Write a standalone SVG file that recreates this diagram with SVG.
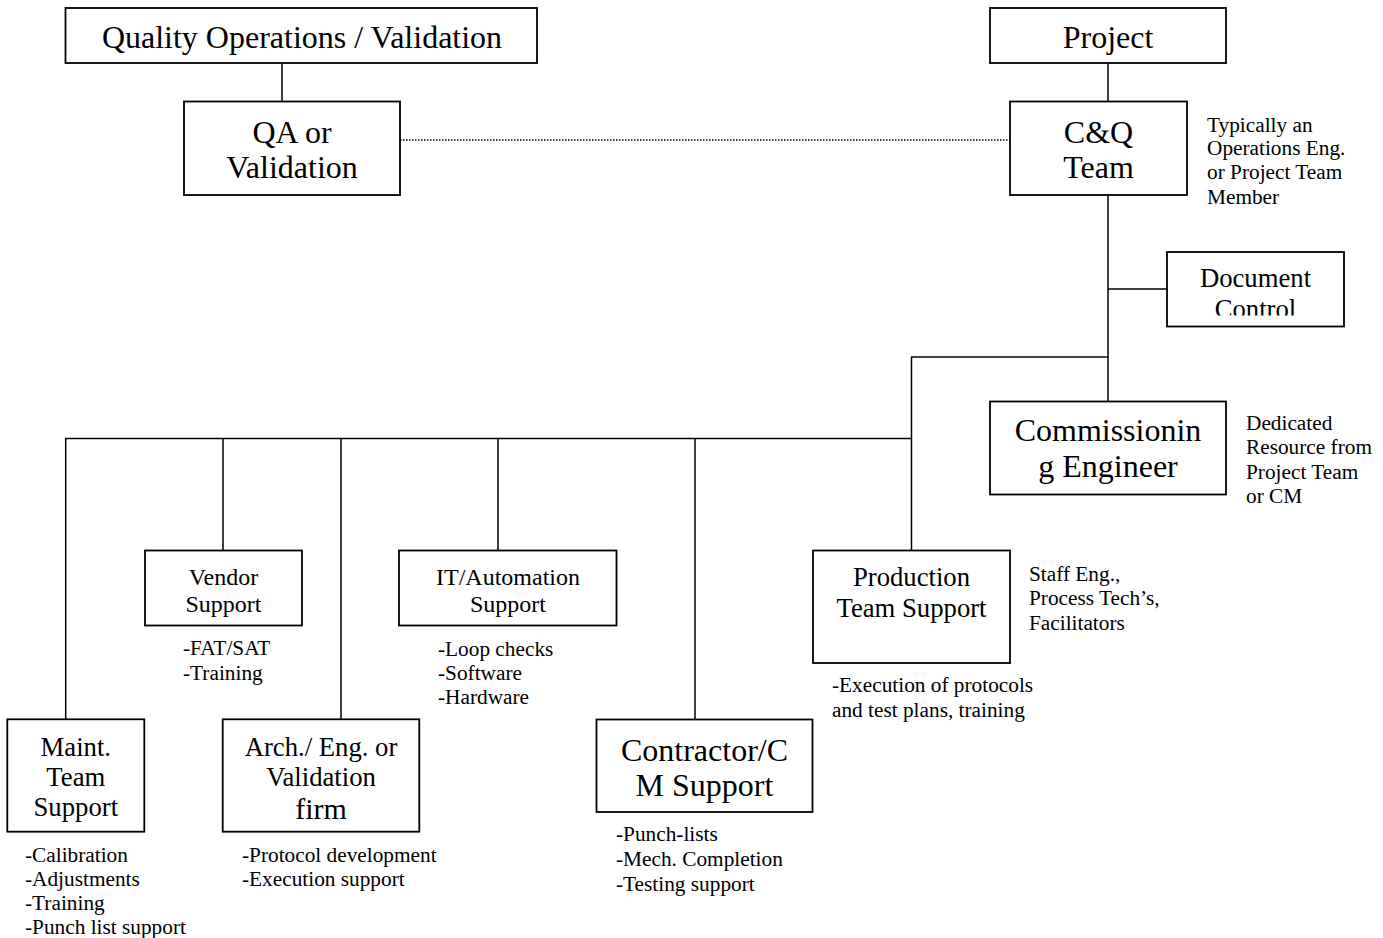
<svg xmlns="http://www.w3.org/2000/svg" width="1383" height="938" viewBox="0 0 1383 938">
<style>
rect.box{fill:#fff;stroke:#000;stroke-width:1.8}
.c line{stroke:#000;stroke-width:1.5}
.dot{stroke:#000;stroke-width:1.4;stroke-dasharray:1.5 1.5}
text{font-family:"Liberation Serif","Times New Roman",serif;fill:#000}
.t32{font-size:32px;text-anchor:middle}
.t30{font-size:30px;text-anchor:middle}
.t27{font-size:26.7px;text-anchor:middle}
.t24{font-size:24px;text-anchor:middle}
.n{font-size:21.3px}
</style>
<defs>
<clipPath id="dcclip"><rect x="1166" y="250" width="180" height="65.5"/></clipPath>
</defs>
<rect width="1383" height="938" fill="#fff"/>
<g class="c" id="connectors">
<line x1="282" y1="63" x2="282" y2="101"/>
<line x1="1108" y1="63" x2="1108" y2="101"/>
<line x1="1108" y1="195" x2="1108" y2="401"/>
<line x1="1108" y1="289" x2="1167" y2="289"/>
<line x1="911" y1="357" x2="1108.75" y2="357"/>
<line x1="911.5" y1="357" x2="911.5" y2="550"/>
<line x1="65" y1="438.5" x2="912" y2="438.5"/>
<line x1="65.7" y1="438" x2="65.7" y2="719"/>
<line x1="223" y1="438" x2="223" y2="550"/>
<line x1="341" y1="438" x2="341" y2="719"/>
<line x1="498" y1="438" x2="498" y2="550"/>
<line x1="695" y1="438" x2="695" y2="719"/>
<line class="dot" x1="400" y1="140" x2="1010" y2="140"/>
</g>
<g id="quality-ops">
<rect class="box" x="65.5" y="8" width="471.5" height="55"/>
<text class="t32" x="302" y="48">Quality Operations / Validation</text>
</g>
<g id="project">
<rect class="box" x="990" y="8" width="236" height="55"/>
<text class="t32" x="1108" y="48">Project</text>
</g>
<g id="qa-validation">
<rect class="box" x="184" y="101.5" width="216" height="93.5"/>
<text class="t32" x="292" y="143">QA or</text>
<text class="t32" x="292" y="178">Validation</text>
</g>
<g id="cq-team">
<rect class="box" x="1010" y="101.5" width="177" height="93.5"/>
<text class="t32" x="1098.5" y="143">C&amp;Q</text>
<text class="t32" x="1098.5" y="178">Team</text>
<text class="n" x="1207" y="132">Typically an</text>
<text class="n" x="1207" y="155">Operations Eng.</text>
<text class="n" x="1207" y="179">or Project Team</text>
<text class="n" x="1207" y="204">Member</text>
</g>
<g id="document-control">
<rect class="box" x="1167" y="252" width="177" height="74.5"/>
<text class="t27" x="1255.5" y="287">Document</text>
<text class="t27" x="1255.5" y="318" clip-path="url(#dcclip)">Control</text>
</g>
<g id="commissioning-engineer">
<rect class="box" x="990" y="401.5" width="236" height="93"/>
<text class="t32" x="1108" y="441">Commissionin</text>
<text class="t32" x="1108" y="477">g Engineer</text>
<text class="n" x="1246" y="430">Dedicated</text>
<text class="n" x="1246" y="454">Resource from</text>
<text class="n" x="1246" y="479">Project Team</text>
<text class="n" x="1246" y="503">or CM</text>
</g>
<g id="vendor-support">
<rect class="box" x="145" y="550.5" width="157" height="75"/>
<text class="t24" x="223.5" y="585">Vendor</text>
<text class="t24" x="223.5" y="612">Support</text>
<text class="n" x="183" y="655">-FAT/SAT</text>
<text class="n" x="183" y="680">-Training</text>
</g>
<g id="it-automation">
<rect class="box" x="399" y="550.5" width="217.5" height="75"/>
<text class="t24" x="508" y="585">IT/Automation</text>
<text class="t24" x="508" y="612">Support</text>
<text class="n" x="438" y="656">-Loop checks</text>
<text class="n" x="438" y="680">-Software</text>
<text class="n" x="438" y="704">-Hardware</text>
</g>
<g id="production-team">
<rect class="box" x="813" y="550.5" width="197" height="112.5"/>
<text class="t27" x="911.5" y="586">Production</text>
<text class="t27" x="911.5" y="617">Team Support</text>
<text class="n" x="1029" y="581">Staff Eng.,</text>
<text class="n" x="1029" y="605">Process Tech’s,</text>
<text class="n" x="1029" y="630">Facilitators</text>
<text class="n" x="832" y="692">-Execution of protocols</text>
<text class="n" x="832" y="717">and test plans, training</text>
</g>
<g id="maint-team">
<rect class="box" x="7.3" y="719.3" width="137" height="112.4"/>
<text class="t27" x="75.8" y="756">Maint.</text>
<text class="t27" x="75.8" y="786">Team</text>
<text class="t27" x="75.8" y="816">Support</text>
<text class="n" x="25" y="862">-Calibration</text>
<text class="n" x="25" y="886">-Adjustments</text>
<text class="n" x="25" y="910">-Training</text>
<text class="n" x="25" y="934">-Punch list support</text>
</g>
<g id="arch-eng">
<rect class="box" x="222.7" y="719.3" width="196.6" height="112.4"/>
<text class="t27" x="321" y="756">Arch./ Eng. or</text>
<text class="t27" x="321" y="786">Validation</text>
<text class="t30" x="321" y="819">firm</text>
<text class="n" x="242" y="862">-Protocol development</text>
<text class="n" x="242" y="886">-Execution support</text>
</g>
<g id="contractor-cm">
<rect class="box" x="596.5" y="719.5" width="216" height="92.5"/>
<text class="t32" x="704.5" y="761">Contractor/C</text>
<text class="t32" x="704.5" y="796">M Support</text>
<text class="n" x="616" y="841">-Punch-lists</text>
<text class="n" x="616" y="866">-Mech. Completion</text>
<text class="n" x="616" y="891">-Testing support</text>
</g>
</svg>
